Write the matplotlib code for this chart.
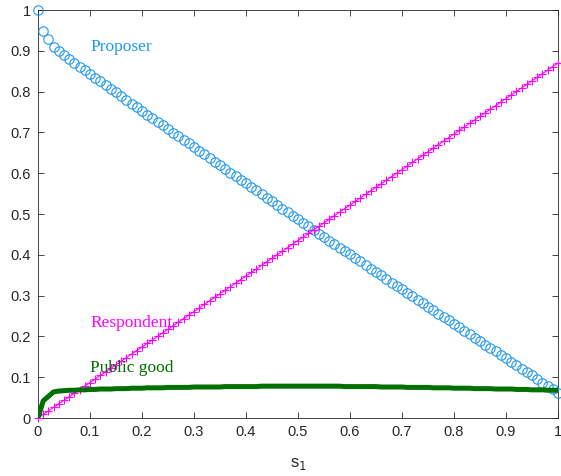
import matplotlib
matplotlib.use("Agg")
import matplotlib.pyplot as plt

s1 = [0.00, 0.01, 0.02, 0.03, 0.04, 0.05, 0.06, 0.07, 0.08, 0.09,
      0.10, 0.11, 0.12, 0.13, 0.14, 0.15, 0.16, 0.17, 0.18, 0.19,
      0.20, 0.21, 0.22, 0.23, 0.24, 0.25, 0.26, 0.27, 0.28, 0.29,
      0.30, 0.31, 0.32, 0.33, 0.34, 0.35, 0.36, 0.37, 0.38, 0.39,
      0.40, 0.41, 0.42, 0.43, 0.44, 0.45, 0.46, 0.47, 0.48, 0.49,
      0.50, 0.51, 0.52, 0.53, 0.54, 0.55, 0.56, 0.57, 0.58, 0.59,
      0.60, 0.61, 0.62, 0.63, 0.64, 0.65, 0.66, 0.67, 0.68, 0.69,
      0.70, 0.71, 0.72, 0.73, 0.74, 0.75, 0.76, 0.77, 0.78, 0.79,
      0.80, 0.81, 0.82, 0.83, 0.84, 0.85, 0.86, 0.87, 0.88, 0.89,
      0.90, 0.91, 0.92, 0.93, 0.94, 0.95, 0.96, 0.97, 0.98, 0.99, 1.00]

proposer = [1.000, 0.949, 0.930, 0.910, 0.899, 0.889, 0.880, 0.871, 0.861, 0.853,
            0.843, 0.834, 0.825, 0.816, 0.807, 0.798, 0.789, 0.780, 0.770, 0.762,
            0.753, 0.743, 0.735, 0.726, 0.717, 0.708, 0.699, 0.690, 0.681, 0.673,
            0.663, 0.654, 0.646, 0.637, 0.628, 0.620, 0.610, 0.601, 0.592, 0.584,
            0.575, 0.566, 0.558, 0.548, 0.539, 0.531, 0.522, 0.513, 0.504, 0.496,
            0.487, 0.478, 0.470, 0.461, 0.452, 0.444, 0.435, 0.426, 0.417, 0.410,
            0.401, 0.392, 0.384, 0.375, 0.366, 0.358, 0.350, 0.341, 0.332, 0.324,
            0.315, 0.307, 0.299, 0.290, 0.281, 0.273, 0.265, 0.256, 0.247, 0.239,
            0.231, 0.222, 0.214, 0.205, 0.197, 0.189, 0.180, 0.171, 0.163, 0.155,
            0.146, 0.137, 0.130, 0.121, 0.112, 0.105, 0.096, 0.087, 0.079, 0.071, 0.062]

respondent = [0.0, 0.0087, 0.0174, 0.0261, 0.0348, 0.0435, 0.0522, 0.0609, 0.0696, 0.0783,
              0.087, 0.0957, 0.1044, 0.1131, 0.1218, 0.1305, 0.1392, 0.1479, 0.1566, 0.1653,
              0.174, 0.1827, 0.1914, 0.2001, 0.2088, 0.2175, 0.2262, 0.2349, 0.2436, 0.2523,
              0.261, 0.2697, 0.2784, 0.2871, 0.2958, 0.3045, 0.3132, 0.3219, 0.3306, 0.3393,
              0.348, 0.3567, 0.3654, 0.3741, 0.3828, 0.3915, 0.4002, 0.4089, 0.4176, 0.4263,
              0.435, 0.4437, 0.4524, 0.4611, 0.4698, 0.4785, 0.4872, 0.4959, 0.5046, 0.5133,
              0.522, 0.5307, 0.5394, 0.5481, 0.5568, 0.5655, 0.5742, 0.5829, 0.5916, 0.6003,
              0.609, 0.6177, 0.6264, 0.6351, 0.6438, 0.6525, 0.6612, 0.6699, 0.6786, 0.6873,
              0.696, 0.7047, 0.7134, 0.7221, 0.7308, 0.7395, 0.7482, 0.7569, 0.7656, 0.7743,
              0.783, 0.7917, 0.8004, 0.8091, 0.8178, 0.8265, 0.8352, 0.8439, 0.8526, 0.8613, 0.87]

public_good = [0.000, 0.042, 0.053, 0.064, 0.066, 0.067, 0.068, 0.068, 0.069, 0.069,
               0.070, 0.070, 0.071, 0.071, 0.071, 0.072, 0.072, 0.072, 0.073, 0.073,
               0.073, 0.074, 0.074, 0.074, 0.074, 0.075, 0.075, 0.075, 0.075, 0.075,
               0.076, 0.076, 0.076, 0.076, 0.076, 0.076, 0.077, 0.077, 0.077, 0.077,
               0.077, 0.077, 0.077, 0.078, 0.078, 0.078, 0.078, 0.078, 0.078, 0.078,
               0.078, 0.078, 0.078, 0.078, 0.078, 0.078, 0.078, 0.078, 0.078, 0.077,
               0.077, 0.077, 0.077, 0.077, 0.077, 0.077, 0.076, 0.076, 0.076, 0.076,
               0.076, 0.075, 0.075, 0.075, 0.075, 0.075, 0.074, 0.074, 0.074, 0.074,
               0.073, 0.073, 0.073, 0.073, 0.072, 0.072, 0.072, 0.072, 0.071, 0.071,
               0.071, 0.071, 0.070, 0.070, 0.070, 0.069, 0.069, 0.069, 0.068, 0.068, 0.068]

ticks = [0, 0.1, 0.2, 0.3, 0.4, 0.5, 0.6, 0.7, 0.8, 0.9, 1]
tick_labels = ["0", "0.1", "0.2", "0.3", "0.4", "0.5", "0.6", "0.7", "0.8", "0.9", "1"]

blue = "#1E98F0"
magenta = "#FF00FF"
green = "#007000"

fig = plt.figure(figsize=(5.61, 4.76), dpi=100)
ax = fig.add_axes([38 / 561, 58 / 476, 520 / 561, 408 / 476])

ax.plot(s1, proposer, linestyle="none", marker="o", markersize=6.8,
        markerfacecolor="none", markeredgecolor=blue, markeredgewidth=0.8,
        clip_on=False, zorder=3)
ax.plot(s1, respondent, color=magenta, linewidth=0.8, marker="+",
        markersize=5.5, markeredgewidth=0.8, clip_on=False, zorder=3)
ax.plot(s1, public_good, color=green, linewidth=3.6, solid_capstyle="butt",
        zorder=4)

ax.text(0.1, 0.91, "Proposer", color=blue, fontsize=12.5,
        family="Liberation Serif", va="center", ha="left")
ax.text(0.1, 0.233, "Respondent", color=magenta, fontsize=12.5,
        family="Liberation Serif", va="center", ha="left")
ax.text(0.1, 0.122, "Public good", color=green, fontsize=12.5,
        family="Liberation Serif", va="center", ha="left")

ax.set_xlim(0, 1)
ax.set_ylim(0, 1)
ax.set_xticks(ticks)
ax.set_xticklabels(tick_labels)
ax.set_yticks(ticks)
ax.set_yticklabels(tick_labels)
for lab in ax.get_xticklabels() + ax.get_yticklabels():
    lab.set_family("Liberation Sans")
    lab.set_fontsize(10.5)
    lab.set_color("#262626")
ax.tick_params(direction="in", top=True, right=True, length=4, width=0.6,
               color="#262626", pad=5)
for sp in ax.spines.values():
    sp.set_color("#262626")
    sp.set_linewidth(0.6)

ax.set_xlabel("s$_1$", fontsize=12, family="Liberation Sans", color="#262626",
              labelpad=12)

fig.savefig("out.png", dpi=100)
